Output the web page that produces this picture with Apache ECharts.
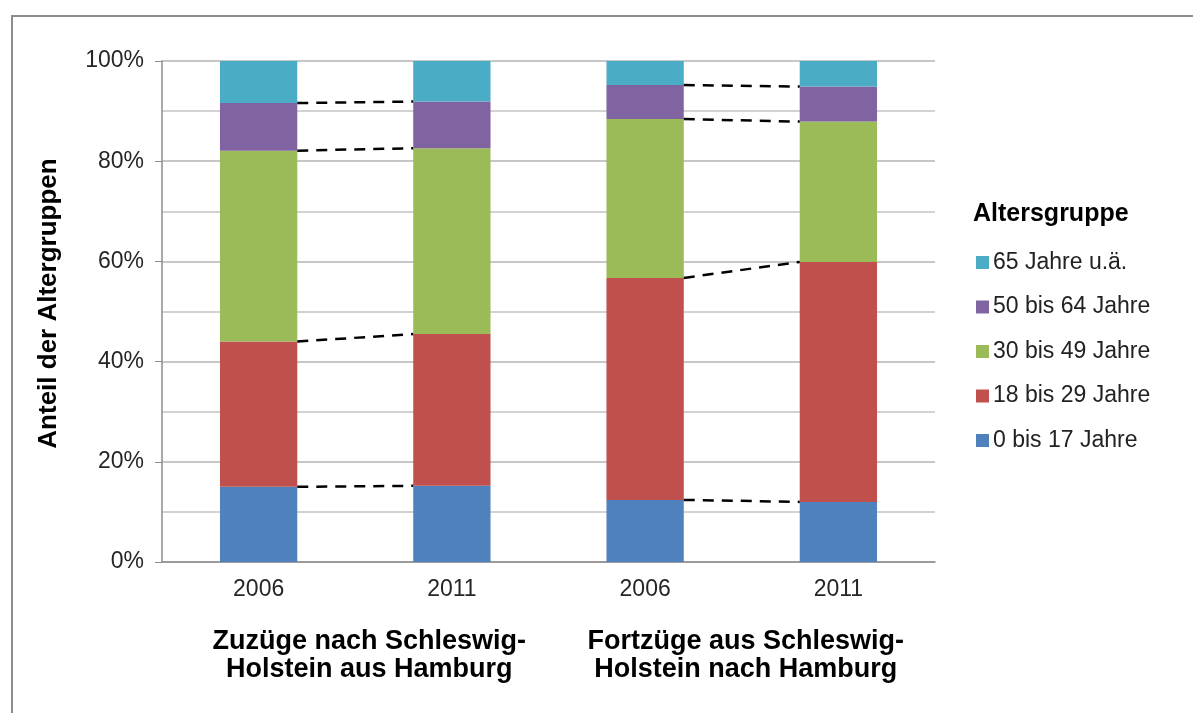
<!DOCTYPE html>
<html>
<head>
<meta charset="utf-8">
<script src="https://cdn.jsdelivr.net/npm/echarts@6/dist/echarts.min.js"></script>
<style>
  html, body { margin: 0; padding: 0; background: #fff; }
  #frame { position: absolute; left: 11px; top: 15px; width: 1200px; height: 720px;
           border-left: 2px solid #8c8c8c; border-top: 2px solid #8c8c8c; }
  #chart { position: absolute; left: 0; top: 0; width: 1193px; height: 713px; }
</style>
</head>
<body>
<div id="frame"></div>
<div id="chart"></div>
<script>
// Jahre je Balken
const years = ['2006', '2011', '2006', '2011'];
// Gruppen unter den Jahren
const groups = ['Zuzüge nach Schleswig-\nHolstein aus Hamburg', 'Fortzüge aus Schleswig-\nHolstein nach Hamburg'];

// Anteile in Prozent (von unten nach oben gestapelt)
const age0to17 = [15.0, 15.2, 12.4, 12.0];
const age18to29 = [29.0, 30.3, 44.3, 47.9];
const age30to49 = [38.1, 37.1, 31.7, 28.0];
const age50to64 = [9.5, 9.3, 6.8, 7.0];
const age65plus = [8.4, 8.1, 4.8, 5.1];

const font = 'Liberation Sans, Arial, sans-serif';

const stacks = [
  { name: '0 bis 17 Jahre', data: age0to17, color: '#4F81BD' },
  { name: '18 bis 29 Jahre', data: age18to29, color: '#C0504D' },
  { name: '30 bis 49 Jahre', data: age30to49, color: '#9BBB59' },
  { name: '50 bis 64 Jahre', data: age50to64, color: '#8064A2' },
  { name: '65 Jahre u.ä.', data: age65plus, color: '#4BACC6' }
];

let series = stacks.map(s => ({
  name: s.name,
  type: 'bar',
  stack: 'total',
  barCategoryGap: '60%',
  data: s.data,
  itemStyle: { color: s.color },
  xAxisIndex: 0
}));

// gestrichelte Verbindungslinien zwischen den Balken eines Paares
const halfBar = 0.2;
for (let k = 0; k < 4; k++) {
  for (let p = 0; p < 2; p++) {
    const a = p * 2, b = p * 2 + 1;
    let sumA = 0, sumB = 0;
    for (let j = 0; j <= k; j++) {
      sumA += stacks[j].data[a];
      sumB += stacks[j].data[b];
    }
    series.push({
      type: 'line',
      xAxisIndex: 2,
      silent: true,
      symbol: 'none',
      z: 5,
      lineStyle: { color: '#000', width: 2.5, type: [11, 8] },
      data: [[a + 0.5 + halfBar, sumA], [b + 0.5 - halfBar, sumB]]
    });
  }
}

const groupText = { fontFamily: font, fontSize: 27, fontWeight: 'bold', color: '#000', lineHeight: 28 };

let chart = echarts.init(document.getElementById('chart'));
chart.setOption({
  animation: false,
  textStyle: { fontFamily: font },
  grid: { left: 162, right: 258, top: 61, bottom: 151 },
  title: {
    text: 'Altersgruppe',
    left: 968, top: 197,
    textStyle: { fontFamily: font, fontSize: 25, fontWeight: 'bold', color: '#000' }
  },
  legend: {
    orient: 'vertical',
    left: 971, top: 246,
    data: ['65 Jahre u.ä.', '50 bis 64 Jahre', '30 bis 49 Jahre', '18 bis 29 Jahre', '0 bis 17 Jahre'],
    icon: 'rect',
    itemWidth: 13, itemHeight: 13,
    itemGap: 21.5,
    selectedMode: false,
    textStyle: { fontFamily: font, fontSize: 23, color: '#222', padding: [0, 0, 0, -1] }
  },
  xAxis: [
    {
      type: 'category',
      data: years,
      axisLine: { lineStyle: { color: '#8c8c8c', width: 1.5 } },
      axisTick: { length: 9, lineStyle: { color: '#8c8c8c' } },
      axisLabel: { fontSize: 23, color: '#262626', margin: 16 }
    },
    {
      type: 'category',
      data: groups,
      position: 'bottom',
      axisLine: { show: false },
      axisTick: { show: false },
      axisLabel: {
        interval: 0, margin: 66,
        formatter: (v, i) => v.split('\n').map(l => '{g' + i + '|' + l + '}').join('\n'),
        rich: {
          g0: Object.assign({ padding: [0, 0, 0, 28] }, groupText),
          g1: Object.assign({ padding: [0, 0, 0, 8] }, groupText)
        }
      }
    },
    {
      type: 'value',
      min: 0, max: 4,
      show: false
    }
  ],
  yAxis: {
    type: 'value',
    min: 0, max: 100, interval: 20,
    name: 'Anteil der Altergruppen',
    nameLocation: 'middle',
    nameRotate: 90,
    nameGap: 100,
    nameTextStyle: { fontFamily: font, fontSize: 26, fontWeight: 'bold', color: '#000', padding: [0, 0, 0, 16] },
    axisLine: { show: true, lineStyle: { color: '#8c8c8c', width: 1.5 } },
    axisTick: { show: true, length: 7, lineStyle: { color: '#8c8c8c' } },
    axisLabel: { fontSize: 23, color: '#262626', margin: 18, formatter: '{value}%' },
    splitLine: { lineStyle: { color: '#b4b4b4', width: 1.5 } },
    minorTick: { show: false, splitNumber: 2 },
    minorSplitLine: { show: true, lineStyle: { color: '#c4c4c4', width: 1.5 } }
  },
  series: series
});
</script>
</body>
</html>
